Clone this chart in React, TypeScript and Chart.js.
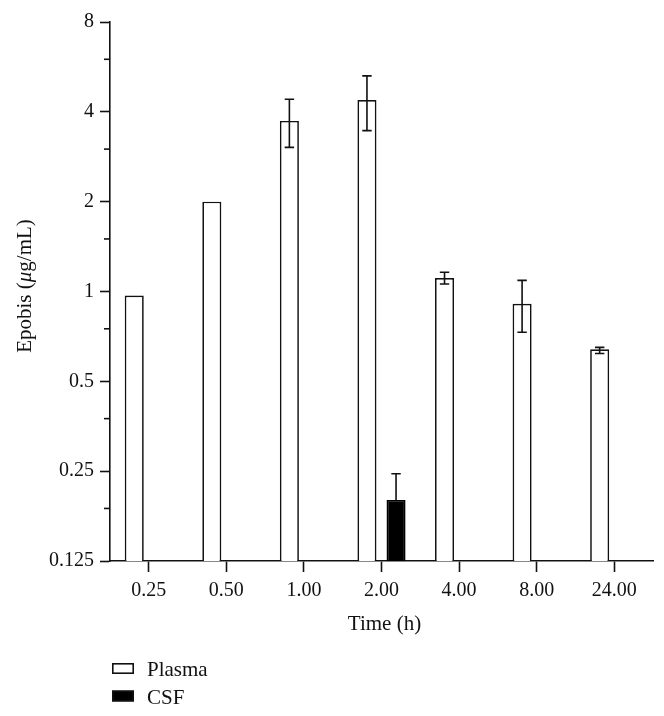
import React, { useEffect, useRef } from "react";
import { Chart, registerables } from "chart.js";

Chart.register(...registerables);

const timeLabels = ["0.25", "0.50", "1.00", "2.00", "4.00", "8.00", "24.00"];
const plasmaMean = [0.97, 2.0, 3.73, 4.38, 1.11, 0.91, 0.64];
const plasmaUpper = [null, null, 4.41, 5.28, 1.16, 1.09, 0.65];
const plasmaLower = [null, null, 3.04, 3.46, 1.06, 0.73, 0.62];
const csfMean = [null, null, null, 0.2, null, null, null];
const csfUpper = [null, null, null, 0.245, null, null, null];
const csfLower = [null, null, null, null, null, null, null];
const yTickValues = [0.125, 0.25, 0.5, 1, 2, 4, 8];
const yTickLabels = ["0.125", "0.25", "0.5", "1", "2", "4", "8"];
const yMinorTicks = [0.1875, 0.375, 0.75, 1.5, 3, 6];

const FONT = "'Liberation Serif', 'Times New Roman', serif";
const INK = "#111";

const errorBars = [
  { mean: plasmaMean, upper: plasmaUpper, lower: plasmaLower },
  { mean: csfMean, upper: csfUpper, lower: csfLower },
];

const extrasPlugin = {
  id: "extras",
  afterDatasetsDraw(chart: any) {
    const ctx = chart.ctx;
    const y = chart.scales.y;
    ctx.save();
    ctx.strokeStyle = INK;
    ctx.lineWidth = 1.6;
    errorBars.forEach((eb, di) => {
      const meta = chart.getDatasetMeta(di);
      meta.data.forEach((bar: any, i: number) => {
        const up = eb.upper[i];
        const lo = eb.lower[i];
        if (up == null && lo == null) return;
        const m = eb.mean[i] as number;
        const x = bar.x;
        const yu = y.getPixelForValue(up != null ? up : m);
        const yl = y.getPixelForValue(lo != null ? lo : m);
        ctx.beginPath();
        ctx.moveTo(x, yu);
        ctx.lineTo(x, yl);
        if (up != null) {
          ctx.moveTo(x - 4.7, yu);
          ctx.lineTo(x + 4.7, yu);
        }
        if (lo != null) {
          ctx.moveTo(x - 4.7, yl);
          ctx.lineTo(x + 4.7, yl);
        }
        ctx.stroke();
      });
    });
    ctx.restore();
  },
  afterDraw(chart: any) {
    const ctx = chart.ctx;
    const y = chart.scales.y;
    const area = chart.chartArea;
    ctx.save();
    // minor y ticks
    ctx.strokeStyle = INK;
    ctx.lineWidth = 1.6;
    yMinorTicks.forEach((v) => {
      const py = y.getPixelForValue(v);
      ctx.beginPath();
      ctx.moveTo(area.left - 6, py);
      ctx.lineTo(area.left, py);
      ctx.stroke();
    });
    // y title with italic mu
    ctx.fillStyle = INK;
    ctx.textBaseline = "middle";
    const parts = [
      { t: "Epobis (", f: `21px ${FONT}` },
      { t: "\u03bc", f: `italic 21px ${FONT}` },
      { t: "g/mL)", f: `21px ${FONT}` },
    ];
    let total = 0;
    parts.forEach((p) => {
      ctx.font = p.f;
      total += ctx.measureText(p.t).width;
    });
    ctx.translate(25, 286);
    ctx.rotate(-Math.PI / 2);
    let cx = -total / 2;
    ctx.textAlign = "left";
    parts.forEach((p) => {
      ctx.font = p.f;
      ctx.fillText(p.t, cx, 0);
      cx += ctx.measureText(p.t).width;
    });
    ctx.setTransform(1, 0, 0, 1, 0, 0);
    // x title
    ctx.font = `21px ${FONT}`;
    ctx.textAlign = "center";
    ctx.textBaseline = "alphabetic";
    ctx.fillText("Time (h)", (area.left + area.right) / 2 + 3, 630);
    // legend
    const items = chart.data.datasets;
    items.forEach((ds: any, i: number) => {
      const top = 663 + i * 27.5;
      ctx.fillStyle = ds.backgroundColor;
      ctx.fillRect(112, top, 22, 11);
      ctx.strokeStyle = INK;
      ctx.lineWidth = 1.6;
      ctx.strokeRect(112.8, top + 0.8, 20.4, 9.4);
      ctx.fillStyle = INK;
      ctx.textAlign = "left";
      ctx.textBaseline = "alphabetic";
      ctx.font = `21px ${FONT}`;
      ctx.fillText(ds.label, 147, top + 13);
    });
    ctx.restore();
  },
};

export default function App() {
  const ref = useRef<HTMLCanvasElement>(null);
  useEffect(() => {
    document.body.style.margin = "0";
    const canvas = ref.current!;
    const chart = new Chart(canvas, {
      type: "bar",
      data: {
        labels: timeLabels,
        datasets: [
          {
            label: "Plasma",
            data: plasmaMean as any,
            backgroundColor: "#ffffff",
            borderColor: INK,
            borderWidth: 1.7,
            borderSkipped: "bottom",
            categoryPercentage: 0.75,
            barPercentage: 0.655,
          },
          {
            label: "CSF",
            data: csfMean as any,
            backgroundColor: "#000000",
            borderColor: "#000000",
            borderWidth: 1.7,
            borderSkipped: "bottom",
            categoryPercentage: 0.75,
            barPercentage: 0.655,
          },
        ],
      },
      options: {
        responsive: false,
        animation: false,
        devicePixelRatio: 1,
        layout: { padding: { left: 0, right: 11, top: 22, bottom: 0 } },
        plugins: {
          legend: { display: false },
          tooltip: { enabled: false },
        },
        scales: {
          x: {
            type: "category",
            offset: true,
            grid: {
              display: true,
              offset: false,
              drawOnChartArea: false,
              drawTicks: true,
              tickLength: 11,
              tickWidth: 1.6,
              tickColor: INK,
            },
            border: { display: true, color: INK, width: 1.6 },
            ticks: {
              color: INK,
              font: { family: FONT, size: 20 },
              padding: 7,
              maxRotation: 0,
              autoSkip: false,
            },
            afterFit: (s: any) => {
              s.height = 716 - 561;
            },
          },
          y: {
            type: "logarithmic",
            min: 0.125,
            max: 8,
            grid: {
              display: true,
              drawOnChartArea: false,
              drawTicks: true,
              tickLength: 10,
              tickWidth: 1.6,
              tickColor: INK,
            },
            border: { display: true, color: INK, width: 1.6 },
            afterBuildTicks: (s: any) => {
              s.ticks = yTickValues.map((v) => ({ value: v, major: false }));
            },
            ticks: {
              color: INK,
              font: { family: FONT, size: 20 },
              padding: 6,
              autoSkip: false,
              callback: (v: any) => {
                const i = yTickValues.indexOf(Number(v));
                return i >= 0 ? yTickLabels[i] : "";
              },
            },
            afterFit: (s: any) => {
              s.width = 110;
            },
          },
        },
      },
      plugins: [extrasPlugin],
    });
    return () => chart.destroy();
  }, []);
  return (
    <canvas
      ref={ref}
      width={664}
      height={716}
      style={{ display: "block", width: 664, height: 716 }}
    />
  );
}
